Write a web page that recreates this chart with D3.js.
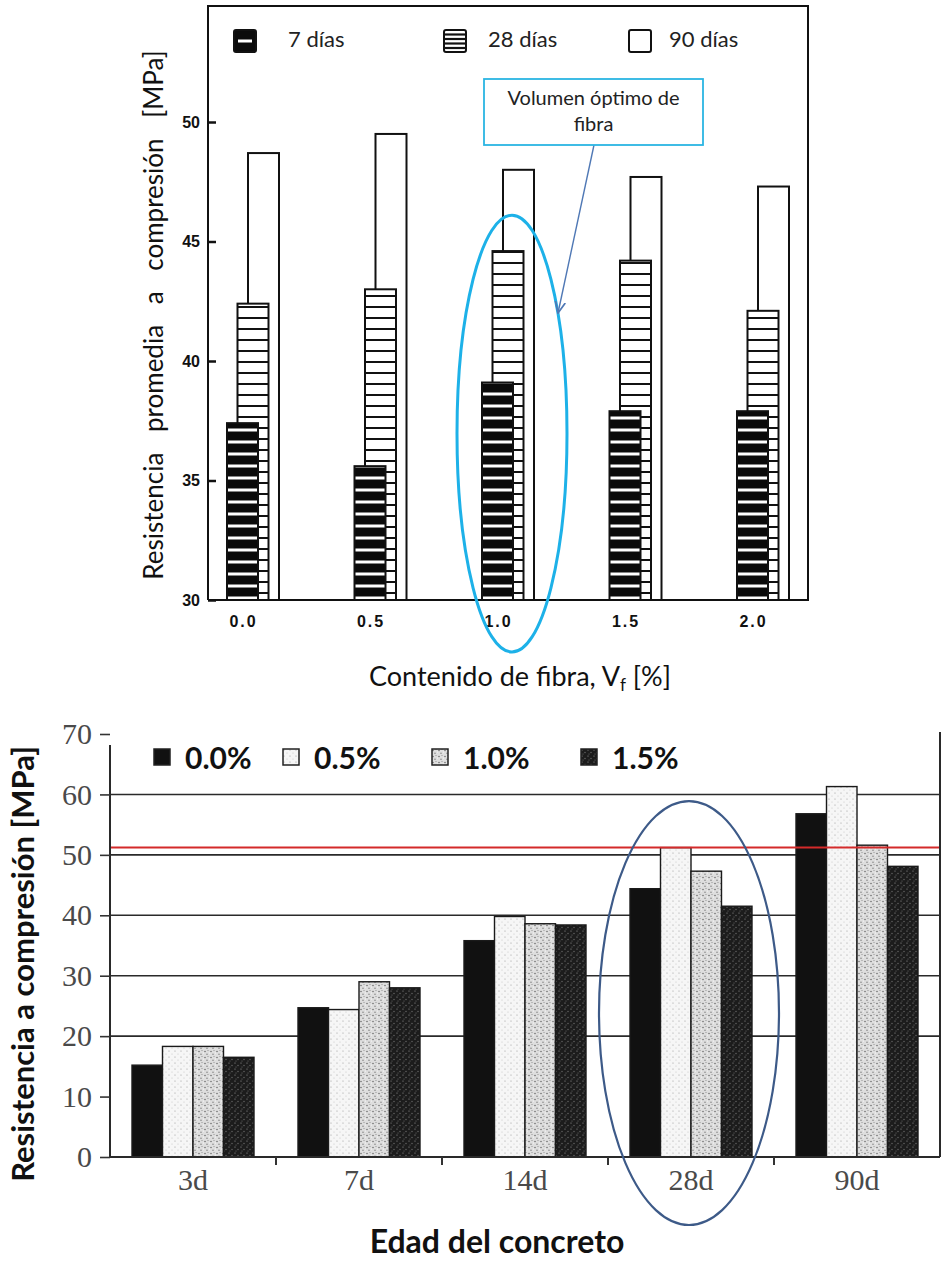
<!DOCTYPE html>
<html>
<head>
<meta charset="utf-8">
<script src="https://cdn.jsdelivr.net/npm/d3@7"></script>
<style>
  body { margin: 0; background: #fff; }
  svg { display: block; }
</style>
</head>
<body>
<div id="chart"></div>
<script>
// ---- chart 1: fibra vs resistencia promedia ----
const fibra = ["0.0", "0.5", "1.0", "1.5", "2.0"];
const seriesTop = ["7 días", "28 días", "90 días"];
const dias7 = [37.4, 35.6, 39.1, 37.9, 37.9];
const dias28 = [42.4, 43.0, 44.6, 44.2, 42.1];
const dias90 = [48.7, 49.5, 48.0, 47.7, 47.3];
const topTicks = [30, 35, 40, 45, 50];

// ---- chart 2: edad del concreto ----
const edades = ["3d", "7d", "14d", "28d", "90d"];
const contenidos = ["0.0%", "0.5%", "1.0%", "1.5%"];
const fib00 = [15.2, 24.7, 35.8, 44.4, 56.8];
const fib05 = [18.3, 24.4, 39.8, 51.2, 61.3];
const fib10 = [18.3, 29.0, 38.6, 47.3, 51.6];
const fib15 = [16.5, 28.0, 38.4, 41.5, 48.1];
const bottomTicks = [0, 10, 20, 30, 40, 50, 60, 70];
const gridTicks = [20, 30, 40, 50, 60];
const lineaRef = 51.2;

const width = 943;
const height = 1261;
const sans = "Lato, 'Open Sans', sans-serif";

const svg = d3.select("#chart")
  .append("svg")
  .attr("width", width)
  .attr("height", height);

const defs = svg.append("defs");

// patrones de relleno
const p7 = defs.append("pattern").attr("id", "p7")
  .attr("patternUnits", "userSpaceOnUse").attr("width", 40).attr("height", 12);
p7.append("rect").attr("width", 40).attr("height", 12).attr("fill", "#0b0b0b");
p7.append("rect").attr("y", 8.5).attr("width", 40).attr("height", 3).attr("fill", "#fff");

const p28 = defs.append("pattern").attr("id", "p28")
  .attr("patternUnits", "userSpaceOnUse").attr("width", 40).attr("height", 11);
p28.append("rect").attr("width", 40).attr("height", 11).attr("fill", "#fff");
p28.append("rect").attr("y", 9).attr("width", 40).attr("height", 2).attr("fill", "#111");

function stipple(id, bg, dots) {
  const p = defs.append("pattern").attr("id", id)
    .attr("patternUnits", "userSpaceOnUse").attr("width", 6).attr("height", 6);
  p.append("rect").attr("width", 6).attr("height", 6).attr("fill", bg);
  dots.forEach(d => p.append("circle").attr("cx", d[0]).attr("cy", d[1]).attr("r", d[2]).attr("fill", d[3]));
}
stipple("s05", "#f6f6f6", [[1, 1, 0.6, "#9a9a9a"], [4, 4, 0.5, "#bdbdbd"]]);
stipple("s10", "#dedede", [[1, 1.5, 0.7, "#5a5a5a"], [4, 0.5, 0.6, "#999"], [3, 4.2, 0.7, "#777"], [5.5, 3, 0.5, "#fff"]]);
stipple("s15", "#1c1c1c", [[1, 1, 0.6, "#9a9a9a"], [4, 3.5, 0.7, "#6a6a6a"], [2, 5, 0.4, "#bbb"]]);

defs.append("marker").attr("id", "arrow")
  .attr("viewBox", "0 0 10 10").attr("refX", 9).attr("refY", 5)
  .attr("markerWidth", 9).attr("markerHeight", 9).attr("orient", "auto")
  .append("path").attr("d", "M0,1 L9,5 L0,9").attr("fill", "none")
  .attr("stroke", "#4f78b5").attr("stroke-width", 1.4);

// ================= CHART 1 =================
const yTop = d3.scaleLinear().domain([30, 50]).range([600, 122]);
const xTop = d3.scalePoint().domain(fibra).range([243, 753]);
const offTop = d3.scalePoint().domain(seriesTop).range([-16, 5]);
const barWTop = 31;
const fillTop = { "7 días": "url(#p7)", "28 días": "url(#p28)", "90 días": "#fff" };
const valoresTop = { "7 días": dias7, "28 días": dias28, "90 días": dias90 };

const g1 = svg.append("g");

// barras: 90 días atrás, 7 días adelante
seriesTop.slice().reverse().forEach(s => {
  g1.selectAll(null)
    .data(fibra.map((c, i) => ({ c, v: valoresTop[s][i] })))
    .join("rect")
    .attr("x", d => xTop(d.c) + offTop(s))
    .attr("y", d => yTop(d.v))
    .attr("width", barWTop)
    .attr("height", d => yTop(30) - yTop(d.v))
    .attr("fill", fillTop[s])
    .attr("stroke", "#111")
    .attr("stroke-width", 2);
});

// marco
const frameTop = 6, frameL = 208, frameR = 808;
g1.append("path")
  .attr("d", `M${frameL},${yTop(30)} V${frameTop} H${frameR} V${yTop(30)} H${frameL}`)
  .attr("fill", "none").attr("stroke", "#111").attr("stroke-width", 2);

// eje y
g1.append("g")
  .attr("transform", `translate(${frameL},0)`)
  .call(d3.axisLeft(yTop).tickValues(topTicks).tickSize(-8).tickPadding(8))
  .call(g => g.select(".domain").remove())
  .call(g => g.selectAll("line").attr("stroke", "#111").attr("stroke-width", 2.5))
  .call(g => g.selectAll("text")
    .attr("font-family", "'Liberation Sans', Arial, sans-serif")
    .attr("font-weight", "bold").attr("font-size", 16).attr("fill", "#111"));

// eje x
g1.append("g")
  .attr("transform", `translate(0,${yTop(30)})`)
  .call(d3.axisBottom(xTop).tickSize(0).tickPadding(16))
  .call(g => g.select(".domain").remove())
  .call(g => g.selectAll("text")
    .attr("font-family", "'Liberation Sans', Arial, sans-serif")
    .attr("font-weight", "bold").attr("font-size", 16).attr("letter-spacing", 2)
    .attr("fill", "#111"));

// títulos
g1.append("text")
  .attr("transform", "translate(163,315) rotate(-90)")
  .attr("text-anchor", "middle")
  .attr("font-family", sans).attr("font-size", 26).attr("word-spacing", 14)
  .attr("fill", "#111")
  .text("Resistencia promedia a compresión [MPa]");

const xt = g1.append("text")
  .attr("x", 520).attr("y", 686)
  .attr("text-anchor", "middle")
  .attr("font-family", sans).attr("font-size", 27).attr("fill", "#111");
xt.append("tspan").text("Contenido de fibra, V");
xt.append("tspan").attr("font-size", 17).attr("dy", 5).text("f");
xt.append("tspan").attr("dy", -5).text(" [%]");

// leyenda
const legX = [233, 443, 628];
const legTextX = [55, 45, 41];
const leg1 = g1.selectAll(".leg1")
  .data(seriesTop)
  .join("g")
  .attr("transform", (d, i) => `translate(${legX[i]},29)`);
leg1.append("rect")
  .attr("x", 1).attr("y", 1).attr("width", 22).attr("height", 22).attr("rx", 2)
  .attr("fill", (d, i) => i === 0 ? "#0b0b0b" : "#fff")
  .attr("stroke", "#111").attr("stroke-width", 2);
leg1.filter((d, i) => i === 0).append("rect")
  .attr("x", 5).attr("y", 10.5).attr("width", 14).attr("height", 3).attr("fill", "#fff");
leg1.filter((d, i) => i === 1).selectAll("line")
  .data([5.5, 10, 14.5, 19])
  .join("line")
  .attr("x1", 1).attr("x2", 23).attr("y1", d => d).attr("y2", d => d)
  .attr("stroke", "#111").attr("stroke-width", 2.2);
leg1.append("text")
  .attr("x", (d, i) => legTextX[i]).attr("y", 18)
  .attr("font-family", sans).attr("font-size", 22).attr("fill", "#222")
  .text(d => d);

// anotación
g1.append("ellipse")
  .attr("cx", xTop("1.0") + 14).attr("cy", (yTop(46.1) + 652) / 2)
  .attr("rx", 55).attr("ry", (652 - yTop(46.1)) / 2)
  .attr("fill", "none").attr("stroke", "#1db1e8").attr("stroke-width", 3);

g1.append("line")
  .attr("x1", 594).attr("y1", 145).attr("x2", 558).attr("y2", 313)
  .attr("stroke", "#4f78b5").attr("stroke-width", 1.4)
  .attr("marker-end", "url(#arrow)");

g1.append("rect")
  .attr("x", 484).attr("y", 79).attr("width", 219).attr("height", 66)
  .attr("fill", "#fff").attr("stroke", "#2bb5e3").attr("stroke-width", 1.8);
g1.append("text")
  .attr("x", 593.5).attr("y", 105).attr("text-anchor", "middle")
  .attr("font-family", sans).attr("font-size", 20).attr("fill", "#222")
  .selectAll("tspan").data(["Volumen óptimo de", "fibra"]).join("tspan")
  .attr("x", 593.5).attr("dy", (d, i) => i ? 26 : 0).text(d => d);

// ================= CHART 2 =================
const yBot = d3.scaleLinear().domain([0, 70]).range([1157, 734]);
const xBot = d3.scaleBand().domain(edades).range([110, 940]);
const xIn = d3.scaleBand().domain(contenidos).range([22, 144]);
const fillBot = { "0.0%": "#111", "0.5%": "url(#s05)", "1.0%": "url(#s10)", "1.5%": "url(#s15)" };
const valoresBot = { "0.0%": fib00, "0.5%": fib05, "1.0%": fib10, "1.5%": fib15 };
const axisR = 940;

const g2 = svg.append("g");

// líneas de cuadrícula
g2.selectAll(".grid")
  .data(gridTicks)
  .join("line")
  .attr("x1", 110).attr("x2", axisR)
  .attr("y1", d => yBot(d)).attr("y2", d => yBot(d))
  .attr("stroke", "#2a2a2a").attr("stroke-width", 1.6);

// barras
contenidos.forEach(s => {
  g2.selectAll(null)
    .data(edades.map((e, i) => ({ e, v: valoresBot[s][i] })))
    .join("rect")
    .attr("x", d => xBot(d.e) + xIn(s))
    .attr("y", d => yBot(d.v))
    .attr("width", xIn.bandwidth())
    .attr("height", d => yBot(0) - yBot(d.v))
    .attr("fill", fillBot[s])
    .attr("stroke", "#1a1a1a")
    .attr("stroke-width", 1.4);
});

// línea de referencia
g2.append("line")
  .attr("x1", 110).attr("x2", axisR)
  .attr("y1", yBot(lineaRef)).attr("y2", yBot(lineaRef))
  .attr("stroke", "#d42a2a").attr("stroke-width", 2);

// ejes
g2.append("line").attr("x1", 110).attr("x2", 110).attr("y1", 745).attr("y2", yBot(0))
  .attr("stroke", "#2a2a2a").attr("stroke-width", 2);
g2.append("line").attr("x1", axisR).attr("x2", axisR).attr("y1", 732).attr("y2", yBot(0))
  .attr("stroke", "#2a2a2a").attr("stroke-width", 2);
g2.append("line").attr("x1", 110).attr("x2", axisR).attr("y1", yBot(0)).attr("y2", yBot(0))
  .attr("stroke", "#2a2a2a").attr("stroke-width", 2);

g2.append("g")
  .attr("transform", "translate(110,0)")
  .call(d3.axisLeft(yBot).tickValues(bottomTicks).tickSize(10).tickPadding(8))
  .call(g => g.select(".domain").remove())
  .call(g => g.selectAll("line").attr("stroke", "#333").attr("stroke-width", 1.6))
  .call(g => g.selectAll("text")
    .attr("font-family", "'Liberation Serif', 'Times New Roman', serif")
    .attr("font-size", 30).attr("fill", "#4a4a4a"));

g2.append("g")
  .attr("transform", `translate(0,${yBot(0)})`)
  .call(d3.axisBottom(xBot).tickSize(0).tickPadding(12))
  .call(g => g.select(".domain").remove())
  .call(g => g.selectAll("text")
    .attr("font-family", "'Liberation Serif', 'Times New Roman', serif")
    .attr("font-size", 30).attr("fill", "#4a4a4a"));

g2.selectAll(".sep")
  .data(edades.slice(1))
  .join("line")
  .attr("x1", d => xBot(d)).attr("x2", d => xBot(d))
  .attr("y1", yBot(0)).attr("y2", yBot(0) + 8)
  .attr("stroke", "#333").attr("stroke-width", 2);

// títulos
g2.append("text")
  .attr("transform", "translate(34,964) rotate(-90)")
  .attr("text-anchor", "middle")
  .attr("font-family", sans).attr("font-weight", "bold").attr("font-size", 31)
  .attr("fill", "#111")
  .text("Resistencia a compresión [MPa]");

g2.append("text")
  .attr("x", 497).attr("y", 1253)
  .attr("text-anchor", "middle")
  .attr("font-family", sans).attr("font-weight", "bold").attr("font-size", 32)
  .attr("fill", "#111")
  .text("Edad del concreto");

// leyenda
const leg2X = [154, 283, 432, 581];
const leg2 = g2.selectAll(".leg2")
  .data(contenidos)
  .join("g")
  .attr("transform", (d, i) => `translate(${leg2X[i]},749)`);
leg2.append("rect")
  .attr("width", 16).attr("height", 16)
  .attr("fill", d => fillBot[d])
  .attr("stroke", "#222").attr("stroke-width", 1.5);
leg2.append("text")
  .attr("x", 31).attr("y", 20)
  .attr("font-family", sans).attr("font-weight", "bold").attr("font-size", 30)
  .attr("fill", "#111")
  .text(d => d);

// elipse 28d
g2.append("ellipse")
  .attr("cx", xBot("28d") + xBot.bandwidth() / 2 - 2)
  .attr("cy", (yBot(58.9) + 1225) / 2)
  .attr("rx", 90).attr("ry", (1225 - yBot(58.9)) / 2)
  .attr("fill", "none").attr("stroke", "#3d5a88").attr("stroke-width", 2.2);
</script>
</body>
</html>
